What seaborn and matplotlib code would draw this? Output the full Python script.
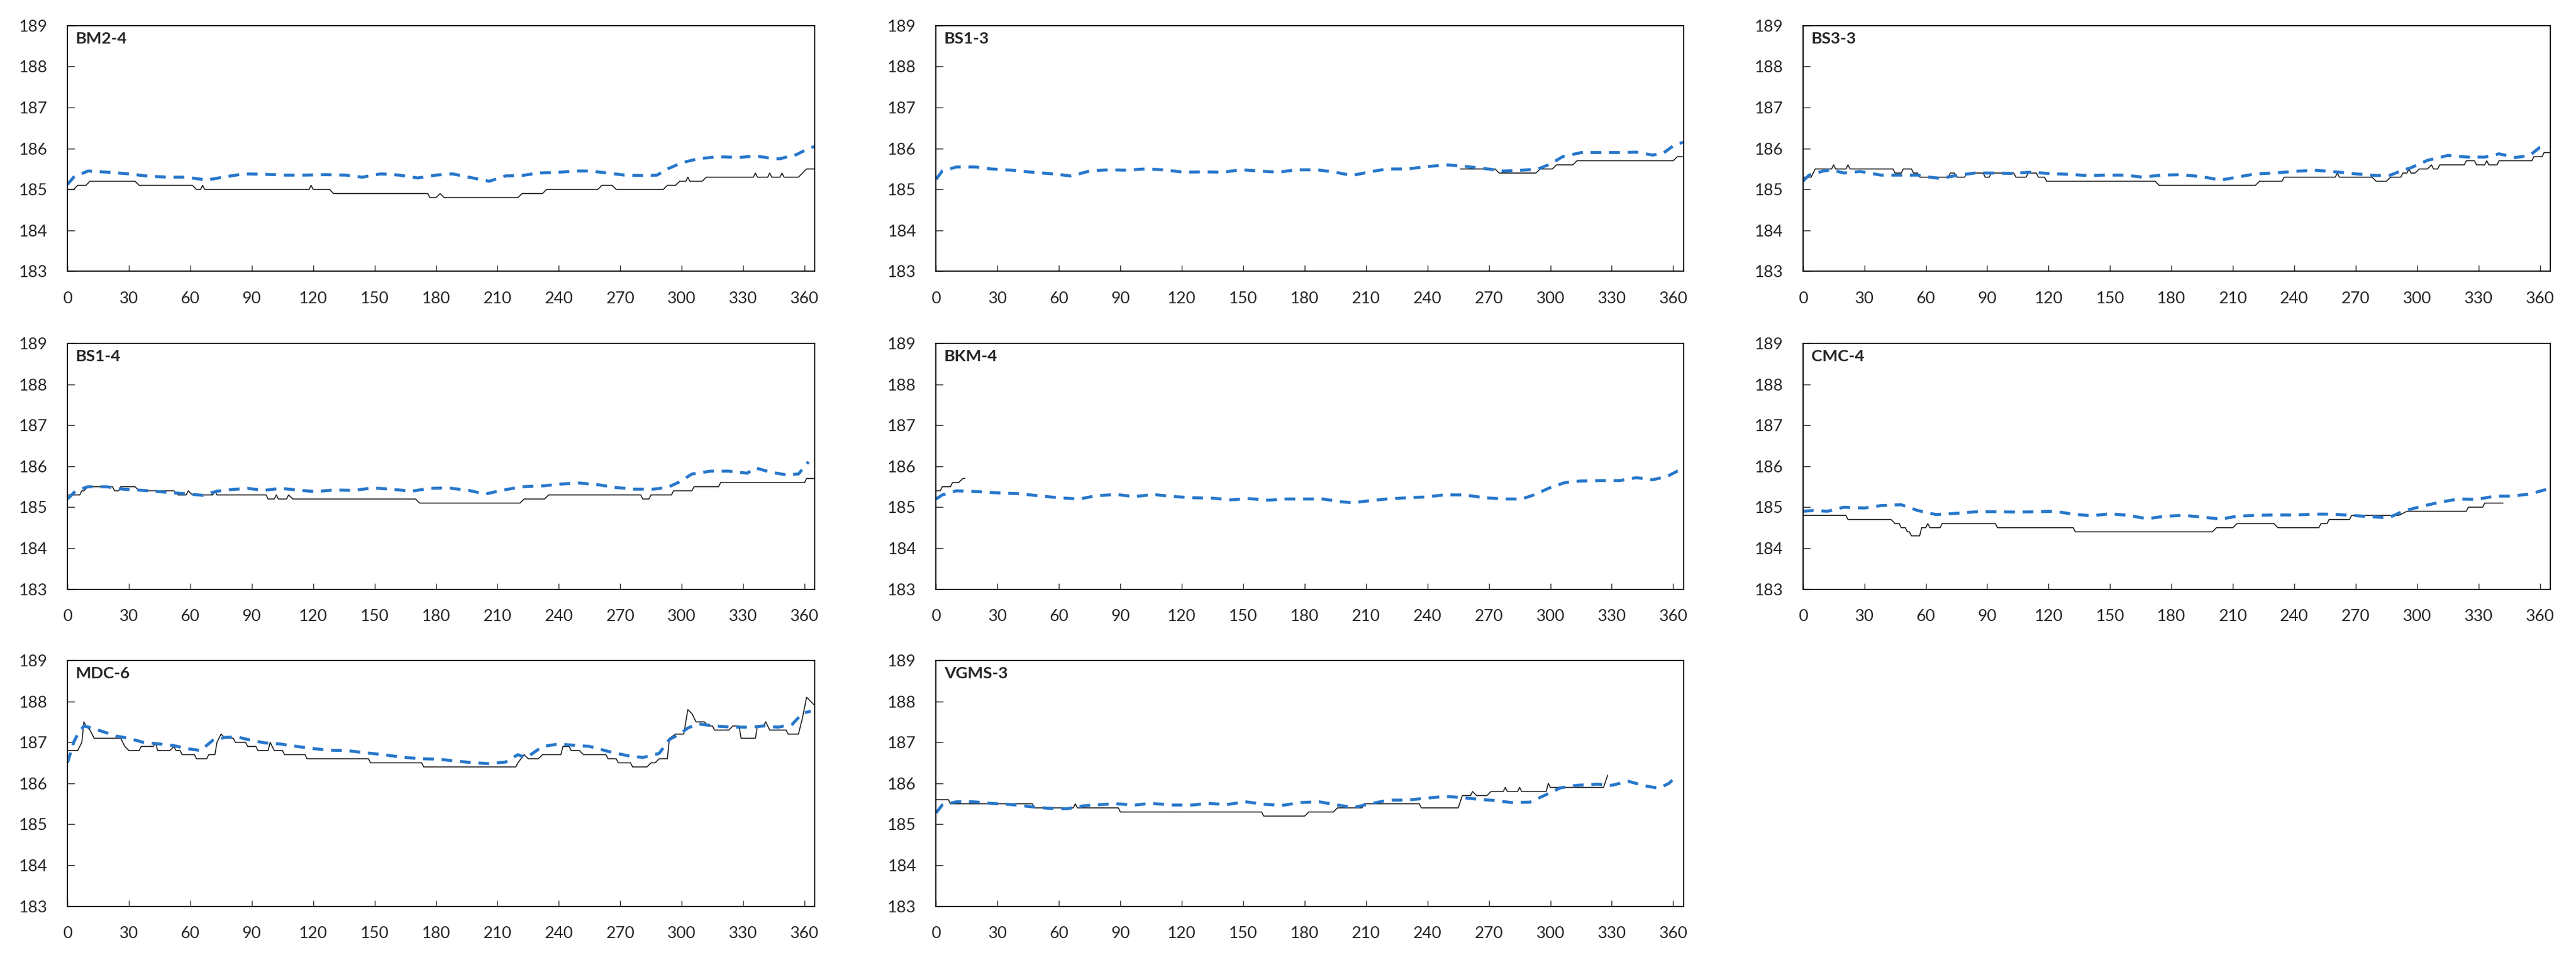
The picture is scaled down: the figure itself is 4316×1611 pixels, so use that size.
import numpy as np
import pandas as pd
import matplotlib.pyplot as plt
import seaborn as sns

sns.set_style("ticks")
plt.rcParams['font.family'] = ['Lato', 'DejaVu Sans']

# observed water level (black step line): (day, level) break points
bm24_obs = [(0, 185.0), (3, 185.0), (5, 185.1), (9, 185.1), (11, 185.2), (33, 185.2), (35, 185.1), (61, 185.1),
            (63, 185.0), (65, 185.0), (66, 185.1), (67, 185.0), (118, 185.0), (119, 185.1), (120, 185.0), (128, 185.0),
            (130, 184.9), (176, 184.9), (177, 184.8), (180, 184.8), (182, 184.9), (184, 184.8), (220, 184.8),
            (222, 184.9), (232, 184.9), (234, 185.0), (259, 185.0), (261, 185.1), (266, 185.1), (268, 185.0),
            (291, 185.0), (293, 185.1), (297, 185.1), (299, 185.2), (302, 185.2), (303, 185.3), (304, 185.2),
            (310, 185.2), (312, 185.3), (335, 185.3), (336, 185.4), (337, 185.3), (342, 185.3), (343, 185.4),
            (344, 185.3), (348, 185.3), (349, 185.4), (350, 185.3), (357, 185.3), (359, 185.4), (361, 185.5),
            (365, 185.5)]
bs13_obs = [(256, 185.5), (273, 185.5), (275, 185.4), (293, 185.4), (295, 185.5), (301, 185.5), (303, 185.6),
            (311, 185.6), (313, 185.7), (360, 185.7), (362, 185.8), (365, 185.8)]
bs33_obs = [(0, 185.3), (4, 185.3), (6, 185.5), (14, 185.5), (15, 185.6), (16, 185.5), (21, 185.5), (22, 185.6),
            (23, 185.5), (44, 185.5), (45, 185.4), (48, 185.4), (49, 185.5), (53, 185.5), (54, 185.4), (56, 185.4),
            (57, 185.3), (71, 185.3), (72, 185.4), (74, 185.4), (75, 185.3), (79, 185.3), (80, 185.4), (88, 185.4),
            (89, 185.3), (91, 185.3), (92, 185.4), (103, 185.4), (104, 185.3), (109, 185.3), (110, 185.4),
            (114, 185.4), (115, 185.3), (118, 185.3), (119, 185.2), (172, 185.2), (174, 185.1), (221, 185.1),
            (223, 185.2), (234, 185.2), (235, 185.3), (260, 185.3), (261, 185.4), (262, 185.3), (278, 185.3),
            (280, 185.2), (285, 185.2), (287, 185.3), (292, 185.3), (293, 185.4), (295, 185.4), (296, 185.5),
            (297, 185.4), (299, 185.4), (301, 185.5), (305, 185.5), (307, 185.6), (308, 185.5), (310, 185.5),
            (311, 185.6), (323, 185.6), (324, 185.7), (328, 185.7), (329, 185.6), (333, 185.6), (334, 185.7),
            (335, 185.6), (339, 185.6), (340, 185.7), (356, 185.7), (357, 185.8), (361, 185.8), (362, 185.9),
            (365, 185.9)]
bs14_obs = [(0, 185.3), (6, 185.3), (7, 185.4), (8, 185.4), (10, 185.5), (22, 185.5), (23, 185.4), (25, 185.4),
            (26, 185.5), (33, 185.5), (35, 185.4), (52, 185.4), (54, 185.3), (58, 185.3), (59, 185.4), (61, 185.3),
            (71, 185.3), (72, 185.4), (73, 185.3), (97, 185.3), (98, 185.2), (101, 185.2), (102, 185.3),
            (103, 185.2), (107, 185.2), (108, 185.3), (110, 185.2), (170, 185.2), (172, 185.1), (221, 185.1),
            (223, 185.2), (233, 185.2), (235, 185.3), (280, 185.3), (281, 185.2), (284, 185.2), (285, 185.3),
            (295, 185.3), (296, 185.4), (305, 185.4), (306, 185.5), (318, 185.5), (319, 185.6), (360, 185.6),
            (361, 185.7), (365, 185.7)]
bkm4_obs = [(0, 185.4), (2, 185.4), (3, 185.5), (7, 185.5), (8, 185.6), (11, 185.6), (13, 185.7), (14, 185.7)]
cmc4_obs = [(0, 184.8), (21, 184.8), (22, 184.7), (43, 184.7), (45, 184.6), (47, 184.6), (48, 184.5), (50, 184.5),
            (51, 184.4), (52, 184.4), (53, 184.3), (57, 184.3), (58, 184.5), (60, 184.5), (61, 184.6), (62, 184.5),
            (67, 184.5), (68, 184.6), (94, 184.6), (95, 184.5), (132, 184.5), (133, 184.4), (200, 184.4),
            (202, 184.5), (210, 184.5), (212, 184.6), (230, 184.6), (232, 184.5), (252, 184.5), (253, 184.6),
            (256, 184.6), (257, 184.7), (267, 184.7), (268, 184.8), (291, 184.8), (295, 184.9), (324, 184.9),
            (325, 185.0), (332, 185.0), (333, 185.1), (342, 185.1)]
mdc6_obs = [(0, 186.8), (5, 186.8), (6, 186.9), (7, 187.0), (8, 187.5), (9, 187.4), (11, 187.3), (13, 187.1),
            (26, 187.1), (27, 187.0), (28, 186.9), (30, 186.8), (35, 186.8), (36, 186.9), (42, 186.9), (43, 187.0),
            (44, 186.8), (50, 186.8), (52, 186.9), (53, 186.8), (55, 186.8), (56, 186.7), (62, 186.7), (63, 186.6),
            (68, 186.6), (69, 186.7), (72, 186.7), (73, 187.0), (75, 187.2), (77, 187.1), (81, 187.1), (82, 187.0),
            (87, 187.0), (88, 186.9), (92, 186.9), (93, 186.8), (98, 186.8), (99, 187.0), (101, 186.8),
            (105, 186.8), (106, 186.7), (116, 186.7), (117, 186.6), (147, 186.6), (148, 186.5), (173, 186.5),
            (174, 186.4), (219, 186.4), (220, 186.5), (223, 186.7), (225, 186.6), (230, 186.6), (232, 186.7),
            (241, 186.7), (242, 186.9), (245, 186.9), (246, 186.8), (250, 186.8), (252, 186.7), (263, 186.7),
            (264, 186.6), (268, 186.6), (269, 186.5), (275, 186.5), (276, 186.4), (283, 186.4), (285, 186.5),
            (287, 186.5), (289, 186.6), (293, 186.6), (294, 187.1), (297, 187.2), (301, 187.2), (303, 187.8),
            (305, 187.7), (307, 187.5), (311, 187.5), (313, 187.4), (315, 187.4), (316, 187.3), (323, 187.3),
            (325, 187.4), (328, 187.4), (329, 187.1), (336, 187.1), (337, 187.4), (340, 187.4), (341, 187.5),
            (343, 187.3), (351, 187.3), (352, 187.2), (357, 187.2), (359, 187.6), (361, 188.1), (365, 187.9)]
vgms3_obs = [(0, 185.6), (6, 185.6), (7, 185.5), (47, 185.5), (48, 185.4), (67, 185.4), (68, 185.5), (69, 185.4),
             (89, 185.4), (90, 185.3), (159, 185.3), (160, 185.2), (180, 185.2), (182, 185.3), (194, 185.3),
             (196, 185.4), (208, 185.4), (209, 185.5), (236, 185.5), (237, 185.4), (255, 185.4), (257, 185.7),
             (261, 185.7), (262, 185.8), (264, 185.7), (269, 185.7), (271, 185.8), (277, 185.8), (278, 185.9),
             (279, 185.8), (284, 185.8), (285, 185.9), (286, 185.8), (298, 185.8), (299, 186.0), (300, 185.9),
             (326, 185.9), (328, 186.2)]

# simulated water level (blue dashed line)
bm24_sim = [(0, 185.12), (3, 185.3), (10, 185.45), (20, 185.42), (30, 185.38), (40, 185.32), (50, 185.3),
            (58, 185.3), (68, 185.23), (76, 185.3), (86, 185.38), (96, 185.37), (106, 185.35), (116, 185.35),
            (126, 185.36), (136, 185.35), (144, 185.3), (153, 185.38), (162, 185.35), (171, 185.28), (180, 185.35),
            (188, 185.38), (198, 185.28), (206, 185.2), (214, 185.33), (222, 185.34), (230, 185.4), (240, 185.42),
            (248, 185.45), (255, 185.45), (264, 185.4), (272, 185.35), (282, 185.34), (288, 185.35), (293, 185.5),
            (300, 185.65), (308, 185.75), (318, 185.8), (328, 185.78), (336, 185.82), (345, 185.75), (348, 185.75),
            (356, 185.85), (362, 186.0), (365, 186.05)]
bs13_sim = [(0, 185.25), (3, 185.45), (10, 185.55), (19, 185.55), (27, 185.5), (37, 185.47), (47, 185.42),
            (57, 185.38), (66, 185.33), (75, 185.45), (84, 185.48), (93, 185.47), (102, 185.5), (111, 185.48),
            (121, 185.42), (131, 185.43), (140, 185.42), (149, 185.48), (158, 185.45), (167, 185.42), (176, 185.48),
            (186, 185.48), (195, 185.42), (203, 185.34), (211, 185.42), (220, 185.5), (230, 185.5), (240, 185.56),
            (250, 185.6), (259, 185.56), (268, 185.51), (277, 185.45), (286, 185.47), (294, 185.5), (300, 185.62),
            (306, 185.8), (315, 185.9), (325, 185.9), (334, 185.9), (342, 185.91), (350, 185.84), (355, 185.88),
            (361, 186.1), (365, 186.15)]
bs33_sim = [(0, 185.2), (3, 185.35), (10, 185.45), (14, 185.48), (20, 185.4), (28, 185.44), (38, 185.35),
            (47, 185.35), (56, 185.35), (62, 185.3), (67, 185.27), (76, 185.35), (84, 185.4), (93, 185.4),
            (102, 185.39), (111, 185.42), (120, 185.39), (129, 185.37), (139, 185.34), (147, 185.35), (157, 185.35),
            (166, 185.3), (175, 185.35), (185, 185.36), (195, 185.31), (204, 185.23), (212, 185.3), (221, 185.38),
            (230, 185.4), (240, 185.44), (250, 185.47), (260, 185.43), (270, 185.38), (280, 185.34), (287, 185.35),
            (293, 185.47), (297, 185.53), (305, 185.71), (315, 185.83), (325, 185.79), (333, 185.79), (340, 185.87),
            (348, 185.78), (355, 185.83), (360, 186.03), (362, 186.06)]
bs14_sim = [(0, 185.2), (4, 185.4), (10, 185.5), (19, 185.5), (27, 185.44), (37, 185.41), (47, 185.37),
            (57, 185.33), (66, 185.29), (73, 185.39), (80, 185.43), (88, 185.46), (96, 185.41), (104, 185.46),
            (112, 185.42), (121, 185.38), (130, 185.42), (140, 185.41), (149, 185.47), (158, 185.44), (168, 185.39),
            (177, 185.46), (186, 185.47), (196, 185.41), (204, 185.32), (212, 185.41), (222, 185.5), (232, 185.52),
            (242, 185.57), (250, 185.59), (259, 185.55), (268, 185.48), (277, 185.44), (286, 185.44), (293, 185.48),
            (299, 185.62), (305, 185.81), (314, 185.88), (323, 185.88), (332, 185.83), (336, 185.96), (343, 185.86),
            (351, 185.79), (357, 185.81), (362, 186.11)]
bkm4_sim = [(0, 185.2), (3, 185.3), (10, 185.4), (20, 185.38), (30, 185.35), (40, 185.33), (50, 185.28),
            (60, 185.23), (70, 185.2), (78, 185.28), (88, 185.31), (97, 185.26), (106, 185.31), (116, 185.26),
            (126, 185.23), (135, 185.22), (144, 185.18), (153, 185.21), (162, 185.17), (171, 185.2), (180, 185.2),
            (189, 185.2), (198, 185.13), (204, 185.11), (212, 185.16), (220, 185.2), (230, 185.23), (239, 185.25),
            (248, 185.3), (258, 185.3), (268, 185.23), (278, 185.2), (286, 185.2), (292, 185.3), (300, 185.48),
            (307, 185.6), (315, 185.64), (325, 185.65), (334, 185.65), (342, 185.72), (350, 185.67), (357, 185.75),
            (362, 185.88), (365, 185.92)]
cmc4_sim = [(0, 184.9), (5, 184.92), (12, 184.9), (20, 185.0), (30, 184.98), (38, 185.04), (48, 185.06),
            (56, 184.92), (65, 184.82), (75, 184.85), (85, 184.89), (95, 184.89), (104, 184.88), (114, 184.89),
            (123, 184.9), (132, 184.83), (141, 184.79), (150, 184.84), (159, 184.8), (168, 184.72), (177, 184.78),
            (186, 184.8), (195, 184.76), (204, 184.71), (212, 184.78), (221, 184.8), (230, 184.81), (240, 184.81),
            (250, 184.83), (259, 184.83), (268, 184.8), (277, 184.77), (286, 184.74), (293, 184.9), (302, 185.02),
            (311, 185.12), (320, 185.2), (329, 185.19), (338, 185.27), (346, 185.27), (355, 185.32), (362, 185.42),
            (365, 185.45)]
mdc6_sim = [(0, 186.5), (3, 187.0), (5, 187.2), (8, 187.4), (12, 187.35), (18, 187.25), (24, 187.15), (30, 187.1),
            (37, 187.0), (45, 186.96), (52, 186.92), (58, 186.85), (65, 186.8), (71, 187.05), (77, 187.12),
            (83, 187.13), (88, 187.07), (96, 186.99), (104, 186.96), (109, 186.92), (118, 186.86), (127, 186.81),
            (136, 186.8), (145, 186.75), (154, 186.7), (163, 186.64), (172, 186.6), (181, 186.59), (190, 186.54),
            (199, 186.5), (206, 186.48), (214, 186.52), (220, 186.7), (224, 186.62), (232, 186.9), (240, 186.96),
            (247, 186.93), (255, 186.9), (264, 186.78), (273, 186.68), (281, 186.63), (289, 186.73), (294, 187.07),
            (299, 187.2), (303, 187.35), (308, 187.45), (316, 187.4), (325, 187.37), (334, 187.37), (340, 187.4),
            (347, 187.37), (354, 187.44), (359, 187.71), (363, 187.76)]
vgms3_sim = [(0, 185.28), (3, 185.47), (10, 185.55), (18, 185.55), (27, 185.51), (37, 185.48), (46, 185.43),
             (55, 185.39), (64, 185.38), (72, 185.45), (80, 185.48), (88, 185.5), (97, 185.47), (105, 185.51),
             (115, 185.47), (125, 185.47), (133, 185.51), (142, 185.48), (151, 185.55), (160, 185.49), (169, 185.46),
             (178, 185.53), (187, 185.55), (196, 185.47), (204, 185.41), (212, 185.5), (221, 185.59), (230, 185.59),
             (240, 185.64), (249, 185.68), (257, 185.65), (265, 185.61), (273, 185.58), (281, 185.53), (290, 185.54),
             (297, 185.7), (305, 185.89), (313, 185.95), (323, 185.98), (330, 185.95), (338, 186.05), (346, 185.94),
             (353, 185.88), (358, 186.0), (362, 186.2)]

wells = ["BM2-4", "BS1-3", "BS3-3", "BS1-4", "BKM-4", "CMC-4", "MDC-6", "VGMS-3"]
observed = [bm24_obs, bs13_obs, bs33_obs, bs14_obs, bkm4_obs, cmc4_obs, mdc6_obs, vgms3_obs]
simulated = [bm24_sim, bs13_sim, bs33_sim, bs14_sim, bkm4_sim, cmc4_sim, mdc6_sim, vgms3_sim]

x_ticks = np.arange(0, 361, 30)
y_ticks = np.arange(183, 190, 1)

W, H, DPI = 4316, 1611, 300
fig = plt.figure(figsize=(W / DPI, H / DPI), dpi=DPI)

col_left = [0.0262, 0.3634, 0.6999]
row_bottom = [0.7179, 0.3876, 0.0580]
ax_w, ax_h = 0.2901, 0.2555

for i, name in enumerate(wells):
    r, c = divmod(i, 3)
    ax = fig.add_axes([col_left[c], row_bottom[r], ax_w, ax_h])

    obs = pd.DataFrame(observed[i], columns=["day", "level"])
    sim = pd.DataFrame(simulated[i], columns=["day", "level"])

    sns.lineplot(data=obs, x="day", y="level", ax=ax, color="#1a1a1a", lw=0.4,
                 estimator=None, sort=False)
    sns.lineplot(data=sim, x="day", y="level", ax=ax, color="#2777CB", lw=1.2,
                 estimator=None, sort=False, ls=(0, (3.6, 2.6)))

    ax.set_xlim(0, 365)
    ax.set_ylim(183, 189)
    ax.set_xticks(x_ticks)
    ax.set_yticks(y_ticks)
    ax.set_xlabel("")
    ax.set_ylabel("")
    ax.tick_params(axis="x", direction="in", length=2.4, width=0.35, pad=8, labelsize=6.6)
    ax.tick_params(axis="y", direction="in", length=2.9, width=0.35, pad=8, labelsize=6.6)
    for s in ax.spines.values():
        s.set_visible(True)
        s.set_linewidth(0.45)
        s.set_color("black")
    ax.text(0.011, 0.975, name, transform=ax.transAxes, ha="left", va="top",
            fontsize=6.6, fontweight="bold")

fig.savefig("out.png", dpi=DPI)
